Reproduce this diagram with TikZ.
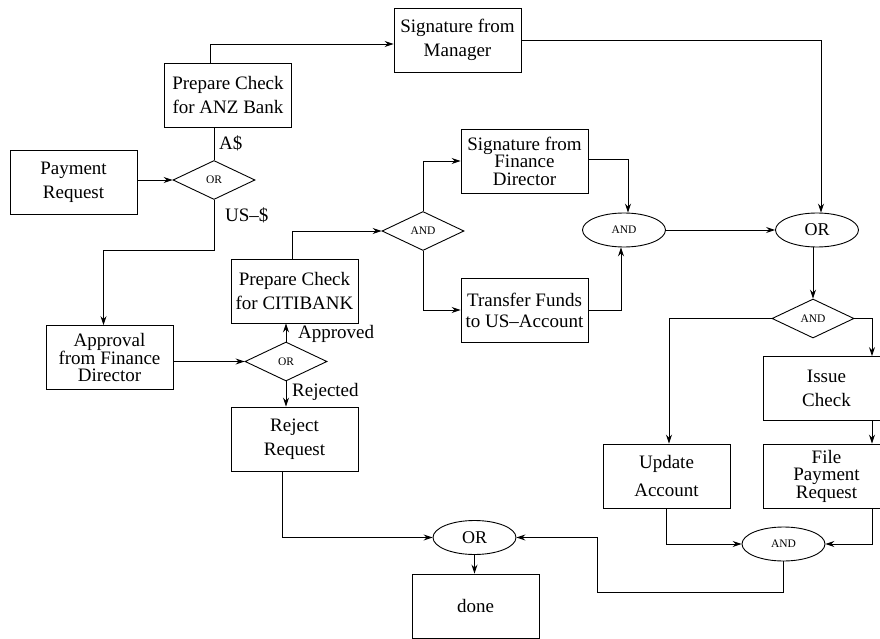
\documentclass[tikz,border=0pt]{standalone}
\usepackage{fontspec}
\setmainfont{Liberation Serif}
\usetikzlibrary{shapes.geometric,arrows.meta}
\begin{document}
\begin{tikzpicture}[x=1pt,y=-1pt,
  every node/.style={font=\fontsize{19}{24}\selectfont},
  box/.style={draw, line width=0.9pt, minimum width=127pt, minimum height=64pt, inner sep=0pt, align=center},
  three/.style={font=\fontsize{19}{17.5}\selectfont},
  gate/.style={draw, line width=0.9pt, diamond, minimum width=82pt, minimum height=39pt, inner sep=0pt, font=\fontsize{11.5}{12}\selectfont},
  egate/.style={draw, line width=0.9pt, ellipse, minimum width=83pt, minimum height=34pt, inner sep=0pt, font=\fontsize{11.5}{12}\selectfont},
  ogate/.style={egate, font=\fontsize{18}{18}\selectfont},
  lab/.style={anchor=west, inner sep=0pt},
  line/.style={draw, line width=0.9pt},
  arr/.style={line, -{Stealth[length=9pt,width=6pt,inset=3pt]}}]
\useasboundingbox (0,0) rectangle (880,639);
\clip (0,0) rectangle (880,639);

% boxes
\node[box] (anz) at (228,95) {Prepare Check\\for ANZ Bank};
\node[box] (sigm) at (457.5,40) {Signature from\\Manager};
\node[box] (pay) at (73.5,182) {Payment\\Request};
\node[box, three] (appr) at (109.5,357.5) {Approval\\from Finance\\Director};
\node[box] (citi) at (294.5,291) {Prepare Check\\for CITIBANK};
\node[box] (rej) at (294.5,439) {Reject\\Request};
\node[box] (done) at (475.5,606) {done};
\node[box, three] (sigfd) at (524.5,161) {Signature from\\Finance\\Director};
\node[box, font=\fontsize{19}{21}\selectfont] (tf) at (524.5,310) {Transfer Funds\\to US–Account};
\node[box, font=\fontsize{19}{28}\selectfont] (upd) at (666.5,476) {Update\\Account};
\node[box] (issue) at (826.5,388.5) {Issue\\Check};
\node[box, three] (file) at (826.5,476) {File\\Payment\\Request};

% gates
\node[gate] (or1) at (214,180) {OR};
\node[gate] (or2) at (286,361.5) {OR};
\node[gate] (andD) at (423,231) {AND};
\node[gate] (andR) at (813,318.5) {AND};
\node[egate] (andE) at (624,230) {AND};
\node[ogate] (orR) at (817,230) {OR};
\node[ogate] (orB) at (474.5,537.5) {OR};
\node[egate] (andB) at (783.5,544) {AND};

% labels
\node[lab] (la) at (219,143) {A\$};
\node[lab] (lu) at (225,215) {US–\$};
\node[lab] (lap) at (298,334) {Approved};
\node[lab] (lre) at (292,392) {Rejected};

% connectors
\draw[arr] (pay.east |- or1.west) -- (or1.west);
\draw[line] (or1.north) -- (or1.north |- anz.south);
\draw[arr] ([xshift=-18pt]anz.north) |- ([yshift=-4pt]sigm.west);
\draw[arr] (or1.south) -- ++(0,50.5) -| ([xshift=-6pt]appr.north);
\draw[arr] (sigm.east) -| ([xshift=4pt]orR.north);
\draw[arr] (andE.east) -- (orR.west);
\draw[arr] ([yshift=2pt]sigfd.east) -| ([xshift=4pt]andE.north);
\draw[arr] (andD.north) |- (sigfd.west);
\draw[arr] (andD.south) |- (tf.west);
\draw[arr] (tf.east) -| ([xshift=-3pt]andE.south);
\draw[arr] ([xshift=-2.5pt]citi.north) |- (andD.west);
\draw[arr] (appr.east |- or2.west) -- (or2.west);
\draw[arr] (or2.north) -- (or2.north |- citi.south);
\draw[arr] (or2.south) -- (or2.south |- rej.north);
\draw[arr] ([xshift=-12.5pt]rej.south) |- (orB.west);
\draw[arr] (orB.south) -- (orB.south |- done.north);
\coordinate (c1) at (597,592);
\draw[arr] (andB.south) |- (c1) |- (orB.east);
\draw[arr] (upd.south) |- (andB.west);
\draw[arr] ([xshift=45.5pt]file.south) |- (andB.east);
\draw[arr] (orR.south -| andR.north) -- (andR.north);
\draw[arr] (andR.west) -| ([xshift=2.5pt]upd.north);
\draw[arr] (andR.east) -| ([xshift=45.5pt]issue.north);
\draw[arr] ([xshift=45.5pt]issue.south) -- ([xshift=45.5pt]file.north);
\end{tikzpicture}
\end{document}
